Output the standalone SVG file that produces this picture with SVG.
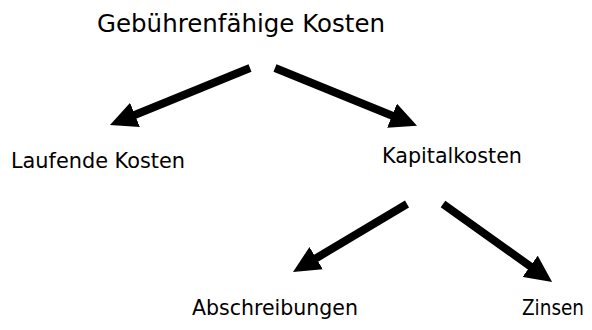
<svg xmlns="http://www.w3.org/2000/svg" width="592" height="330" viewBox="0 0 592 330">
<style>
text{font-family:"DejaVu Sans",Verdana,sans-serif;fill:#000}
.t{font-size:25.5px}
.l{font-size:21px}
.c{stroke:#000;stroke-width:8;fill:none;marker-end:url(#ah)}
</style>
<defs>
<marker id="ah" markerUnits="userSpaceOnUse" markerWidth="27" markerHeight="26" refX="3" refY="13" orient="auto" viewBox="0 0 27 26">
<path d="M0,0 L27,13 L0,26 z" fill="#000"/>
</marker>
</defs>
<rect width="592" height="330" fill="#fff"/>
<g id="connectors">
<line class="c" x1="250" y1="68" x2="132.2" y2="116"/>
<line class="c" x1="275" y1="68" x2="394.8" y2="116.8"/>
<line class="c" x1="407" y1="204" x2="313.6" y2="259.7"/>
<line class="c" x1="443" y1="204" x2="532.6" y2="268"/>
</g>
<g id="n-root"><text class="t" x="97" y="32" textLength="288" lengthAdjust="spacingAndGlyphs">Gebührenfähige Kosten</text></g>
<g id="n-laufend"><text class="l" x="11" y="168" textLength="174" lengthAdjust="spacingAndGlyphs">Laufende Kosten</text></g>
<g id="n-kapital"><text class="l" x="382" y="163" textLength="140" lengthAdjust="spacingAndGlyphs">Kapitalkosten</text></g>
<g id="n-abschr"><text class="l" x="192" y="315" textLength="166" lengthAdjust="spacingAndGlyphs">Abschreibungen</text></g>
<g id="n-zinsen"><text class="l" x="522" y="315" textLength="62" lengthAdjust="spacingAndGlyphs">Zinsen</text></g>
</svg>
